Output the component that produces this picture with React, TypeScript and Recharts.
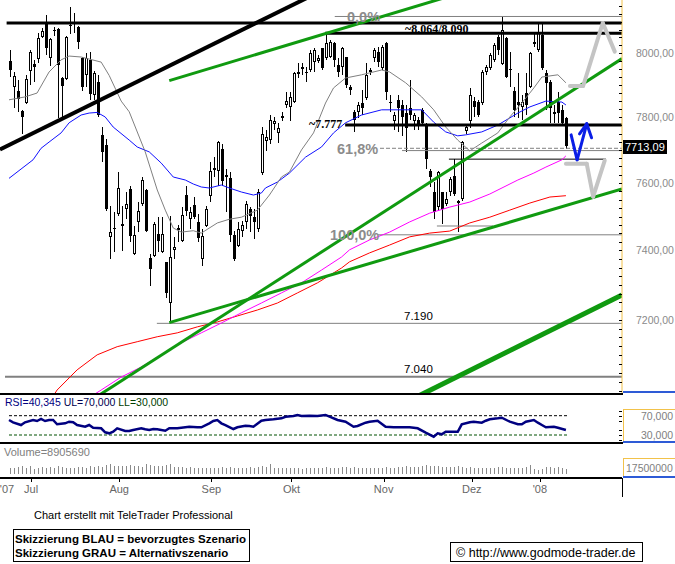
import React from 'react';
import { ComposedChart, Bar, Line, XAxis, YAxis, ReferenceLine } from 'recharts';

const FONT = '"Liberation Sans", Arial, sans-serif';
const SERIF = '"Liberation Serif", "Times New Roman", serif';

// x = trading day index (0 = 22.06.2007, 139 = 10.01.2008)
const X_MIN = -2.25;
const X_MAX = 153;
const PRICE_MIN = 6992;
const PRICE_MAX = 8170;

const opens = [
  7975, 7895, 7882, 7820, 7845, 7945, 7967, 7982, 8051, 8096,
  7985, 8075, 8077, 7921, 7920, 8090, 8100, 8084, 7985, 7932,
  7979, 7870, 7910, 7747, 7714, 7440, 7465, 7507, 7478, 7522,
  7582, 7390, 7484, 7537, 7579, 7379, 7385, 7449, 7396, 7367,
  7247, 7402, 7465, 7428, 7564, 7493, 7535, 7484, 7376, 7472,
  7561, 7639, 7636, 7702, 7624, 7615, 7446, 7414, 7458, 7484,
  7522, 7499, 7464, 7630, 7726, 7729, 7779, 7753, 7799, 7839,
  7832, 7848, 7935, 7951, 7941, 7948, 7973, 7976, 8016, 7985,
  7988, 8032, 7963, 7957, 7988, 7894, 7817, 7817, 7845, 7860,
  7941, 7985, 8004, 7954, 8032, 7848, 7787, 7854, 7839, 7814,
  7829, 7787, 7793, 7823, 7777, 7636, 7573, 7528, 7573, 7537,
  7573, 7621, 7546, 7552, 7759, 7790, 7851, 7848, 7845, 7941,
  7954, 7979, 8051, 7967, 8048, 7951, 7882, 7848, 7832, 7876,
  7894, 8032, 8010, 8058, 7938, 7910, 7811, 7848, 7823, 7799,
];
const highs = [
  8010, 7941, 7916, 7823, 7932, 8010, 7979, 8064, 8080, 8122,
  8048, 8083, 8080, 7925, 8054, 8148, 8128, 8087, 7988, 8000,
  8004, 7945, 7932, 7771, 7732, 7531, 7513, 7633, 7531, 7573,
  7591, 7472, 7543, 7618, 7582, 7390, 7484, 7499, 7499, 7367,
  7502, 7440, 7475, 7528, 7591, 7528, 7558, 7508, 7464, 7531,
  7663, 7678, 7726, 7717, 7642, 7633, 7458, 7484, 7487, 7546,
  7528, 7522, 7582, 7771, 7762, 7808, 7801, 7783, 7817, 7879,
  7879, 7941, 7970, 7970, 7957, 8010, 8016, 7995, 8016, 8064,
  8042, 8035, 7985, 8020, 7988, 7900, 7823, 7848, 7885, 7970,
  7954, 8016, 8020, 8026, 8035, 7870, 7817, 7870, 7854, 7839,
  7916, 7814, 7801, 7829, 7783, 7642, 7603, 7636, 7573, 7573,
  7618, 7672, 7549, 7726, 7777, 7891, 7863, 7854, 7948, 7963,
  8000, 8032, 8058, 8117, 8051, 8004, 7894, 7938, 7870, 7938,
  8004, 8064, 8096, 8096, 7948, 7916, 7839, 7879, 7839, 7801,
];
const lows = [
  7926, 7829, 7817, 7750, 7840, 7900, 7910, 7970, 8048, 7995,
  7960, 8054, 7799, 7799, 7916, 8061, 8064, 8013, 7880, 7895,
  7854, 7854, 7801, 7663, 7516, 7376, 7396, 7502, 7399, 7493,
  7425, 7387, 7455, 7531, 7455, 7298, 7381, 7396, 7393, 7261,
  7192, 7376, 7425, 7425, 7502, 7464, 7493, 7425, 7356, 7469,
  7543, 7618, 7591, 7591, 7513, 7425, 7370, 7411, 7440, 7464,
  7455, 7434, 7455, 7624, 7696, 7717, 7762, 7720, 7790, 7829,
  7790, 7845, 7923, 7932, 7910, 7941, 7941, 7970, 7948, 7979,
  7985, 7957, 7926, 7932, 7891, 7870, 7756, 7799, 7808, 7854,
  7932, 7973, 7957, 7948, 7854, 7817, 7762, 7756, 7741, 7693,
  7793, 7762, 7762, 7777, 7642, 7588, 7493, 7516, 7478, 7531,
  7561, 7561, 7455, 7546, 7750, 7768, 7801, 7801, 7839, 7932,
  7948, 7973, 7995, 7963, 7923, 7894, 7801, 7799, 7793, 7808,
  7891, 8020, 8004, 7948, 7823, 7783, 7783, 7783, 7777, 7702,
];
const closes = [
  7948, 7929, 7857, 7801, 7920, 8004, 7957, 8048, 8070, 8016,
  8045, 8070, 7963, 7898, 8052, 8085, 8096, 8035, 7895, 7985,
  7873, 7938, 7808, 7693, 7522, 7455, 7462, 7585, 7472, 7537,
  7443, 7446, 7516, 7609, 7458, 7347, 7478, 7428, 7449, 7276,
  7382, 7411, 7460, 7505, 7516, 7513, 7500, 7437, 7443, 7522,
  7636, 7645, 7723, 7606, 7618, 7446, 7376, 7464, 7475, 7537,
  7502, 7484, 7573, 7750, 7738, 7793, 7787, 7768, 7805, 7851,
  7863, 7938, 7941, 7957, 7938, 8000, 8010, 7985, 7954, 8032,
  8035, 7979, 7941, 8016, 7900, 7885, 7793, 7839, 7829, 7932,
  7948, 8010, 7973, 8020, 7879, 7845, 7808, 7829, 7801, 7768,
  7808, 7808, 7777, 7783, 7672, 7618, 7513, 7633, 7522, 7552,
  7612, 7567, 7540, 7723, 7771, 7870, 7832, 7808, 7941, 7957,
  7995, 8026, 8010, 8074, 7926, 7948, 7823, 7839, 7848, 7839,
  8000, 8035, 8064, 7954, 7907, 7829, 7817, 7814, 7783, 7713.09,
];

// volume in millions
const volumes = [
  10.8, 11.5, 12.2, 13.6, 11.0, 14.2,
  9.6, 10.4, 11.8, 10.9, 12.4, 10.1, 13.8, 12.6, 11.2, 10.6, 9.9, 12.0, 12.8, 11.3, 13.9, 11.7, 14.6, 13.2, 16.2, 17.0, 14.4, 13.6,
  15.1, 14.2, 16.3, 13.8, 14.9, 13.0, 17.4, 16.1, 13.4, 14.6, 13.9, 15.9, 18.2, 13.3, 12.1, 11.8, 11.0, 12.1, 10.7, 11.4, 10.2, 10.6, 11.3,
  9.9, 10.6, 11.6, 10.4, 12.8, 11.4, 10.3, 10.1, 10.9, 11.7, 10.6, 12.1, 13.5, 12.3, 17.8, 10.9, 10.2, 10.6, 11.2, 10.4,
  10.0, 10.4, 9.7, 10.9, 11.1, 11.5, 10.1, 10.8, 11.8, 10.3, 11.0, 9.9, 11.6, 12.4, 10.6, 11.9, 10.4, 10.9, 11.4, 10.2, 10.7, 11.0, 11.3,
  12.7, 11.4, 10.9, 12.0, 12.8, 13.6, 12.1, 13.3, 12.5, 14.6, 15.4, 14.0, 15.1, 13.4, 12.8, 12.0, 13.1, 11.6, 13.8, 13.0, 11.3, 11.8,
  10.8, 11.5, 11.1, 10.0, 10.6, 10.3, 11.8, 13.0, 11.4, 10.7, 10.2, 11.0, 9.9, 12.1, 16.8, 8.1, 7.2,
  9.6, 11.7, 12.4, 11.0, 11.8, 11.1, 8.90569,
];

// moving averages: [day index, value]
const grayMa = [
  [0, 7854], [4, 7863], [7, 7875], [10, 7941], [13, 7979], [15, 7991], [18, 7988], [23, 7972],
  [25, 7930], [28, 7850], [30, 7817], [34, 7694], [37, 7579], [39, 7519], [41, 7466], [43, 7454],
  [46, 7458], [48, 7451], [52, 7481], [55, 7492], [58, 7498], [62, 7519], [65, 7564], [68, 7618],
  [70, 7633], [73, 7700], [76, 7752], [79, 7844], [81, 7891], [84, 7922], [88, 7932], [93, 7947],
  [95, 7941], [99, 7907], [103, 7863], [106, 7823], [109, 7770], [112, 7730], [115, 7697], [118, 7721],
  [122, 7752], [125, 7801], [128, 7844], [131, 7891], [133, 7925], [137, 7932], [139, 7907],
];
const blueMa = [
  [0, 7614], [3, 7642], [6, 7670], [8, 7705], [10, 7724], [13, 7752], [15, 7783], [18, 7807],
  [20, 7813], [22, 7815], [24, 7801], [26, 7770], [30, 7730], [32, 7709], [35, 7694], [38, 7660],
  [41, 7618], [44, 7609], [46, 7597], [48, 7588], [50, 7585], [53, 7594], [55, 7585], [58, 7573],
  [61, 7564], [63, 7570], [64, 7585], [67, 7603], [70, 7630], [74, 7678], [78, 7709], [81, 7752],
  [84, 7783], [88, 7807], [93, 7823], [98, 7823], [103, 7823], [106, 7785], [109, 7755], [112, 7743],
  [114, 7746], [118, 7755], [122, 7776], [127, 7813], [130, 7832], [134, 7850], [138, 7847], [139, 7838],
];
const magentaMa = [
  [21, 6989], [23, 7003], [28, 7039], [33, 7067], [38, 7101], [43, 7135], [48, 7163], [53, 7191],
  [58, 7220], [63, 7248], [68, 7277], [73, 7306], [78, 7343], [83, 7381], [85, 7402], [90, 7431],
  [95, 7454], [100, 7484], [105, 7510], [110, 7528], [115, 7543], [120, 7567], [127, 7609], [131, 7630],
  [134, 7648], [138, 7670], [139, 7682],
];
const redMa = [
  [11, 6986], [12, 7003], [17, 7059], [22, 7101], [27, 7124], [32, 7138], [37, 7152], [42, 7163],
  [47, 7180], [52, 7194], [57, 7211], [62, 7228], [67, 7248], [72, 7277], [77, 7306], [83, 7349],
  [85, 7367], [90, 7393], [95, 7416], [100, 7440], [105, 7451], [110, 7457], [115, 7481], [120, 7498],
  [125, 7519], [130, 7540], [135, 7558], [139, 7562],
];
const rsiPoints = [
  [0, 61.1], [1, 56.3], [3, 50.7], [4, 56.3], [6, 61.1], [7, 59.0], [8, 63.2], [9, 59.0], [10, 61.1],
  [11, 61.1], [12, 52.2], [14, 54.2], [15, 57.6], [16, 56.3], [17, 50.7], [19, 47.2], [20, 50.7],
  [21, 45.1], [23, 43.9], [24, 35.6], [25, 33.5], [26, 36.8], [27, 43.9], [29, 38.3], [30, 38.3],
  [31, 40.4], [33, 43.9], [34, 41.8], [35, 40.4], [36, 42.4], [37, 41.8], [39, 38.9], [40, 43.9],
  [42, 43.9], [44, 46.0], [45, 47.2], [47, 46.0], [48, 46.0], [50, 54.2], [51, 59.0], [52, 61.1],
  [53, 54.2], [54, 50.7], [56, 42.4], [57, 46.0], [59, 49.3], [60, 48.6], [61, 47.2], [63, 59.6],
  [64, 61.1], [66, 62.5], [68, 64.6], [69, 67.9], [71, 69.4], [72, 71.5], [73, 69.4], [75, 70.0],
  [77, 69.4], [79, 71.5], [80, 67.9], [82, 61.1], [84, 57.6], [86, 47.2], [87, 48.6], [89, 55.5],
  [90, 57.6], [92, 59.6], [94, 47.2], [96, 46.0], [100, 46.0], [102, 43.9], [104, 34.8], [106, 26.5],
  [107, 33.5], [108, 31.4], [109, 36.8], [112, 36.8], [113, 52.2], [115, 56.3], [116, 57.6], [118, 55.5],
  [119, 59.6], [120, 62.5], [122, 64.6], [123, 65.9], [125, 57.6], [127, 52.2], [128, 52.2], [129, 57.6],
  [131, 61.1], [132, 55.5], [133, 50.7], [134, 46.0], [136, 47.2], [137, 45.1], [139, 40.345],
];

// trend lines and drawn levels: [day index, price]
const blackTrend = [[-2.25, 7701.5], [82.6, 8229.5]];
const greenUpper = [[40.0, 7913.9], [112.6, 8192.5]];
const greenSteep = [[21.5, 6981.7], [153, 7983]];
const greenMid = [[40.0, 7192], [153, 7582]];
const greenLow = [[100.1, 6975], [153, 7271]];
const blueArrow = [[140.3, 7746], [141.8, 7670], [144.2, 7780], [145.4, 7737]];
const blueArrowWing = [[142.4, 7749], [144.2, 7780]];
const grayUp = [[140.0, 7897], [143.3, 7897], [148.2, 8096], [151.2, 8005]];
const grayDown = [[139.0, 7658], [144.2, 7658], [145.8, 7559], [148.7, 7668]];

const level = (v: number, from: number, to: number) => [[from, v], [to, v]];
const resistTop = level(8096, -0.6, 153);
const resist8064 = level(8063, 78.9, 153);
const fib0 = level(8117, 81.3, 153);
const level7777 = level(7776, 83.9, 153);
const fib618 = level(7705, 92.6, 153);
const support7698 = level(7698, 98.1, 153);
const level7672 = level(7672, 109.8, 149);
const fib100 = level(7446, 92.1, 153);
const level7472 = level(7472, 106.8, 120.8);
const level7190 = level(7190, 36.9, 153);
const level7040 = level(7040, -1.0, 153);

const priceLabels = [7200, 7400, 7600, 7800, 8000];
const priceTicks: number[] = [];
for (let v = 7000; v <= 8150; v += 25) priceTicks.push(v);
const rsiTicks = [20, 30, 40, 60, 70, 80];
const rsiLabels = [70, 30];
const volTicks = [17.5];
const monthTicks = [-0.5, 5.5, 27.5, 50.5, 70.5, 93.5, 115.5, 132.5];
const monthLabels = ["'07", 'Jul', 'Aug', 'Sep', 'Okt', 'Nov', 'Dez', "'08"];

const toRows = (pts: number[][]) => pts.map(([i, v]) => ({ i, v }));
const grayRows = toRows(grayMa);
const blueRows = toRows(blueMa);
const magentaRows = toRows(magentaMa);
const redRows = toRows(redMa);
const rsiRows = toRows(rsiPoints);

const rows = opens.map((o, i) => ({
  i,
  o,
  h: highs[i],
  l: lows[i],
  c: closes[i],
  range: [lows[i], highs[i]],
}));
const volRows = volumes.map((v, i) => ({ i, v }));

const Candle = (props: any) => {
  const { x, y, width, height, payload } = props;
  if (x == null || y == null || !payload) return null;
  const cx = Math.round(x + width / 2);
  const lh = Math.log(payload.h);
  const span = lh - Math.log(payload.l) || 1;
  const py = (v: number) => y + ((lh - Math.log(v)) / span) * height;
  const yo = py(payload.o);
  const yc = py(payload.c);
  const up = payload.c >= payload.o;
  const top = Math.round(Math.min(yo, yc));
  const bot = Math.max(top + (up ? 2 : 1), Math.round(Math.max(yo, yc)));
  return (
    <g>
      <line x1={cx + 0.5} x2={cx + 0.5} y1={Math.round(y)} y2={Math.round(y + height)} stroke="#000" strokeWidth={1} />
      {up ? (
        <rect x={cx - 0.5} y={top + 0.5} width={2} height={bot - top - 1} fill="#fff" stroke="#000" strokeWidth={1} />
      ) : (
        <rect x={cx - 1} y={top} width={3} height={bot - top} fill="#000" />
      )}
    </g>
  );
};

const VolBar = (props: any) => {
  const { x, y, width, height } = props;
  if (x == null || !height) return null;
  return <rect x={Math.round(x + width / 2)} y={Math.round(y)} width={1} height={Math.max(1, Math.round(height))} fill="#8a8a8a" />;
};

const PriceTick = ({ x, y, payload }: any) => (
  <g>
    <line x1={x - 3} x2={x} y1={Math.round(y) + 0.5} y2={Math.round(y) + 0.5} stroke="#000" />
    {priceLabels.includes(payload.value) && (
      <text x={x + 14} y={y + 4} fontSize={10.5} fill="#8a8a8a" fontFamily={FONT}>
        {payload.value.toFixed(2).replace('.', ',')}
      </text>
    )}
  </g>
);

const EdgeTick = ({ y }: any) => (
  <line x1={0} x2={3} y1={Math.round(y) + 0.5} y2={Math.round(y) + 0.5} stroke="#000" />
);

const RsiTick = ({ x, y, payload }: any) => (
  <g>
    <line x1={x - 3} x2={x} y1={Math.round(y) + 0.5} y2={Math.round(y) + 0.5} stroke="#000" />
    {rsiLabels.includes(payload.value) && (
      <text x={x + 19} y={y + 4} fontSize={10.5} fill="#808080" fontFamily={FONT}>
        {payload.value.toFixed(3).replace('.', ',')}
      </text>
    )}
  </g>
);

const VolTick = ({ x, y, payload }: any) => (
  <text x={x + 4} y={y + 7.5} fontSize={10.5} fill="#808080" fontFamily={FONT}>
    {String(Math.round(payload.value * 1e6))}
  </text>
);

const MonthTick = ({ x, y, payload }: any) => {
  const k = monthTicks.indexOf(payload.value);
  return (
    <g>
      {k > 0 && <line x1={Math.round(x) + 0.5} x2={Math.round(x) + 0.5} y1={y} y2={y + 4} stroke="#000" />}
      <text x={x} y={y + 15} textAnchor="middle" fontSize={11} fill="#666" fontFamily={FONT}>
        {monthLabels[k]}
      </text>
    </g>
  );
};

const segs = (pts: number[][], stroke: string, w: number, key: string, dash?: string, cap?: string) =>
  pts.slice(1).map((p, k) => (
    <ReferenceLine
      key={`${key}${k}`}
      segment={[{ x: pts[k][0], y: pts[k][1] }, { x: p[0], y: p[1] }]}
      stroke={stroke}
      strokeWidth={w}
      strokeDasharray={dash}
      strokeLinecap={cap as any}
      ifOverflow="hidden"
    />
  ));

const noMargin = { top: 0, right: 0, bottom: 0, left: 0 };
const GREEN = '#109a10';
const ORANGE = '#f2c24a';
const BLUE_FRAME = '#2e5bd6';
const still = { position: 'absolute' as const, left: 0, pointerEvents: 'none' as const };

export default function App() {
  const lastClose = closes[closes.length - 1];
  const lastRsi = rsiPoints[rsiPoints.length - 1][1];
  const lastVol = Math.round(volumes[volumes.length - 1] * 1e6);
  return (
    <div style={{ position: 'absolute', left: 0, top: 0, width: 675, height: 564, background: '#fff', overflow: 'hidden', fontFamily: FONT }}>
      <div style={{ ...still, top: 0 }}>
        <ComposedChart width={675} height={394} data={rows} margin={noMargin}>
          <XAxis dataKey="i" type="number" domain={[X_MIN, X_MAX]} hide allowDataOverflow />
          <YAxis
            orientation="right"
            width={53}
            scale="log"
            domain={[PRICE_MIN, PRICE_MAX]}
            allowDataOverflow
            ticks={priceTicks}
            interval={0}
            tickSize={0}
            tickMargin={0}
            tickLine={false}
            axisLine={{ stroke: ORANGE }}
            tick={(p: any) => <PriceTick {...p} />}
          />
          <YAxis
            yAxisId="edge"
            orientation="left"
            width={0}
            scale="log"
            domain={[PRICE_MIN, PRICE_MAX]}
            allowDataOverflow
            ticks={priceTicks}
            interval={0}
            tickSize={0}
            tickMargin={0}
            tickLine={false}
            axisLine={false}
            tick={(p: any) => <EdgeTick {...p} />}
          />
          {segs(level7040, '#808080', 2, 'l7040')}
          {segs(level7190, '#808080', 1, 'l7190')}
          {segs(fib100, '#808080', 1, 'f100')}
          {segs(level7472, '#808080', 1, 'l7472')}
          {segs(fib618, '#808080', 1, 'f618', '4 2')}
          {segs(support7698, '#808080', 1, 's7698')}
          {segs(level7672, '#000', 1, 'l7672')}
          {segs(fib0, '#808080', 1, 'f0')}
          <Bar dataKey="range" barSize={3} isAnimationActive={false} shape={(p: any) => <Candle {...p} />} />
          <Line data={redRows} dataKey="v" stroke="#ff0000" strokeWidth={1} dot={false} activeDot={false} isAnimationActive={false} />
          <Line data={magentaRows} dataKey="v" stroke="#ff00ff" strokeWidth={1} dot={false} activeDot={false} isAnimationActive={false} />
          <Line data={blueRows} dataKey="v" stroke="#1010ff" strokeWidth={1} dot={false} activeDot={false} isAnimationActive={false} />
          <Line data={grayRows} dataKey="v" stroke="#808080" strokeWidth={1} dot={false} activeDot={false} isAnimationActive={false} />
          {segs(resistTop, '#000', 3, 'rt')}
          {segs(resist8064, '#000', 3, 'r64')}
          {segs(level7777, '#000', 3, 'l777')}
          {segs(blackTrend, '#000', 4, 'bt')}
          {segs(greenUpper, GREEN, 3, 'gu')}
          {segs(greenSteep, GREEN, 3, 'gs')}
          {segs(greenMid, GREEN, 3, 'gm')}
          {segs(greenLow, GREEN, 5, 'gl')}
          {segs(grayUp, '#c4c4c4', 4, 'au', undefined, 'round')}
          {segs(grayDown, '#c4c4c4', 4, 'ad', undefined, 'round')}
          {segs(blueArrow, '#0a1ee6', 3, 'ab', undefined, 'round')}
          {segs(blueArrowWing, '#0a1ee6', 3, 'aw', undefined, 'round')}
        </ComposedChart>
      </div>

      <div style={{ ...still, top: 395 }}>
        <ComposedChart width={675} height={47} data={rsiRows} margin={noMargin}>
          <XAxis dataKey="i" type="number" domain={[X_MIN, X_MAX]} hide allowDataOverflow />
          <YAxis
            orientation="right"
            width={53}
            domain={[15.5, 112.9]}
            allowDataOverflow
            ticks={rsiTicks}
            interval={0}
            tickSize={0}
            tickMargin={0}
            tickLine={false}
            axisLine={false}
            tick={(p: any) => <RsiTick {...p} />}
          />
          <ReferenceLine segment={[{ x: 0, y: 70 }, { x: 139.3, y: 70 }]} stroke="#000" strokeDasharray="3 2" ifOverflow="hidden" />
          <ReferenceLine segment={[{ x: 0, y: 30 }, { x: 139.3, y: 30 }]} stroke="#005000" strokeDasharray="3 2" ifOverflow="hidden" />
          <Line dataKey="v" stroke="#000080" strokeWidth={2.5} dot={false} activeDot={false} isAnimationActive={false} />
        </ComposedChart>
      </div>

      <div style={{ ...still, top: 444 }}>
        <ComposedChart width={675} height={56} data={volRows} margin={noMargin}>
          <XAxis
            dataKey="i"
            type="number"
            domain={[X_MIN, X_MAX]}
            allowDataOverflow
            ticks={monthTicks}
            interval={0}
            height={22}
            tickSize={0}
            tickMargin={0}
            tickLine={false}
            axisLine={{ stroke: '#000', strokeWidth: 2 }}
            tick={(p: any) => <MonthTick {...p} />}
          />
          <YAxis
            orientation="right"
            width={53}
            domain={[-7.1, 53.4]}
            allowDataOverflow
            ticks={volTicks}
            interval={0}
            tickSize={0}
            tickMargin={0}
            tickLine={false}
            axisLine={false}
            tick={(p: any) => <VolTick {...p} />}
          />
          <Bar dataKey="v" barSize={1} fill="#8a8a8a" isAnimationActive={false} shape={(p: any) => <VolBar {...p} />} />
        </ComposedChart>
      </div>

      <svg width={675} height={564} style={{ position: 'absolute', left: 0, top: 0, pointerEvents: 'none' }}>
        {/* panel borders */}
        <rect x={0} y={393} width={623} height={2} fill="#000" />
        <rect x={0} y={442} width={623} height={2} fill="#000" />
        <rect x={623} y={391} width={52} height={2} fill={BLUE_FRAME} />
        <line x1={623.5} y1={409} x2={623.5} y2={442} stroke={ORANGE} />
        <line x1={623} y1={409.5} x2={675} y2={409.5} stroke={ORANGE} />
        <rect x={623} y={441} width={52} height={2} fill={BLUE_FRAME} />
        <line x1={623.5} y1={458} x2={623.5} y2={477} stroke={ORANGE} />
        <line x1={623} y1={458.5} x2={675} y2={458.5} stroke={ORANGE} />
        <rect x={623} y={476} width={52} height={2} fill={BLUE_FRAME} />
        <line x1={622.5} y1={478} x2={622.5} y2={497} stroke="#000" />

        {/* last price */}
        <rect x={623} y={140} width={44} height={14} fill="#000" />
        <text x={625} y={151} fontSize={11} fill="#fff" fontFamily={FONT}>
          {lastClose.toFixed(2).replace('.', ',')}
        </text>

        {/* level annotations */}
        <text x={347} y={22} fontSize={14.5} fontWeight="bold" fill="#8c8c8c" fontFamily={FONT}>0,0%</text>
        <text x={405} y={33} fontSize={12} fontWeight="bold" fill="#000" fontFamily={SERIF}>~8.064/8.090</text>
        <text x={309} y={128} fontSize={12} fontWeight="bold" fill="#000" fontFamily={SERIF}>~7.777</text>
        <text x={337} y={154} fontSize={14.5} fontWeight="bold" fill="#8c8c8c" fontFamily={FONT}>61,8%</text>
        <text x={330} y={240} fontSize={14.5} fontWeight="bold" fill="#8c8c8c" fontFamily={FONT}>100,0%</text>
        <text x={404} y={320} fontSize={11.5} fill="#000" fontFamily={FONT}>7.190</text>
        <text x={404} y={373} fontSize={11.5} fill="#000" fontFamily={FONT}>7.040</text>

        {/* indicator captions */}
        <text x={5} y={405.5} fontSize={10.5} fontFamily={FONT}>
          <tspan fill="#000080">{`RSI=${lastRsi.toFixed(3).replace('.', ',')}`}</tspan>
          <tspan fill="#000050">{' UL=70,000'}</tspan>
          <tspan fill="#004000">{' LL=30,000'}</tspan>
        </text>
        <text x={4} y={456} fontSize={11} fill="#808080" fontFamily={FONT}>{`Volume=${lastVol}`}</text>

        {/* footer */}
        <text x={34} y={519} fontSize={11} fill="#000" fontFamily={FONT}>Chart erstellt mit TeleTrader Professional</text>
        <rect x={13.5} y={529.5} width={236} height={32} fill="none" stroke="#000" />
        <text x={15} y={543} fontSize={11.5} fontWeight="bold" fill="#000" fontFamily={FONT}>Skizzierung BLAU = bevorzugtes Szenario</text>
        <text x={15} y={557} fontSize={11.5} fontWeight="bold" fill="#000" fontFamily={FONT}>Skizzierung GRAU = Alternativszenario</text>
        <rect x={450.5} y={542.5} width={192} height={19} fill="none" stroke="#000" />
        <text x={456} y={557} fontSize={12.5} fill="#000" fontFamily={FONT}>© http://www.godmode-trader.de</text>
      </svg>
    </div>
  );
}
